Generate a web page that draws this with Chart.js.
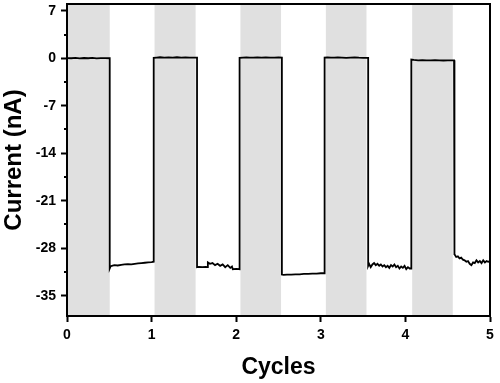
<!DOCTYPE html>
<html>
<head>
<meta charset="utf-8">
<script src="https://cdn.jsdelivr.net/npm/chart.js@4.4.1/dist/chart.umd.min.js"></script>
<style>html,body{margin:0;padding:0;background:#fff;}canvas{display:block;}</style>
</head>
<body>
<canvas id="c" width="500" height="383"></canvas>
<script>
// Data
const time = [
  0, 0.05, 0.1, 0.15, 0.2, 0.25, 0.3, 0.35, 0.4, 0.45, 0.505,
  0.505, 0.515, 0.53, 0.56, 0.6, 0.64, 0.68, 0.72, 0.76, 0.8, 0.84, 0.88, 0.92, 0.96, 1.0, 1.025,
  1.025, 1.06, 1.1, 1.15, 1.2, 1.25, 1.3, 1.35, 1.4, 1.45, 1.5, 1.537,
  1.537, 1.56, 1.6, 1.64, 1.66, 1.665, 1.69, 1.72, 1.75, 1.78, 1.81, 1.84, 1.87, 1.9, 1.93, 1.95, 1.96, 2.0, 2.04,
  2.04, 2.08, 2.12, 2.16, 2.2, 2.25, 2.3, 2.35, 2.4, 2.45, 2.5, 2.54,
  2.54, 2.56, 2.6, 2.65, 2.7, 2.75, 2.8, 2.85, 2.9, 2.95, 3.0, 3.045,
  3.045, 3.08, 3.12, 3.16, 3.2, 3.25, 3.3, 3.35, 3.4, 3.45, 3.5, 3.56,
  3.56, 3.57, 3.59, 3.61, 3.63, 3.65, 3.67, 3.69, 3.71, 3.73, 3.75, 3.77, 3.79, 3.81, 3.83, 3.85, 3.87, 3.89, 3.91, 3.93, 3.95, 3.97, 3.99, 4.01, 4.03, 4.05, 4.07,
  4.07, 4.1, 4.15, 4.2, 4.25, 4.3, 4.35, 4.4, 4.45, 4.5, 4.575,
  4.575, 4.585, 4.6, 4.62, 4.64, 4.66, 4.68, 4.7, 4.72, 4.74, 4.76, 4.78, 4.8, 4.82, 4.84, 4.86, 4.88, 4.9, 4.92, 4.94, 4.96, 4.98, 5.0
];
const current = [
  0.02, 0.0, 0.05, -0.03, 0.04, 0.0, 0.06, -0.02, 0.03, 0.01, 0.0,
  -31.0, -30.7, -30.6, -30.5, -30.55, -30.45, -30.4, -30.35, -30.4, -30.3, -30.25, -30.2, -30.15, -30.1, -30.05, -30.0,
  0.05, 0.1, 0.15, 0.1, 0.12, 0.08, 0.15, 0.1, 0.12, 0.08, 0.1, 0.08,
  -30.8, -30.75, -30.8, -30.75, -30.8, -30.1, -30.3, -30.2, -30.5, -30.3, -30.6, -30.4, -30.8, -30.5, -30.9, -30.7, -31.1, -31.05, -31.1,
  0.05, 0.1, 0.12, 0.08, 0.1, 0.14, 0.1, 0.12, 0.08, 0.1, 0.12, 0.1,
  -31.9, -31.95, -31.9, -31.9, -31.85, -31.85, -31.8, -31.8, -31.75, -31.75, -31.7, -31.7,
  0.1, 0.12, 0.08, 0.1, 0.14, 0.1, 0.06, 0.1, 0.12, 0.08, 0.06, 0.05,
  -30.6, -30.3, -30.8, -30.4, -30.2, -30.5, -30.3, -30.6, -30.4, -30.7, -30.5, -30.8, -30.6, -30.9, -30.5, -30.7, -30.4, -30.8, -30.6, -31.0, -30.7, -30.9, -30.6, -31.1, -30.8, -31.0, -31.0,
  -0.2, -0.25, -0.3, -0.28, -0.32, -0.3, -0.27, -0.3, -0.33, -0.3, -0.3,
  -29.0, -28.9, -29.3, -29.2, -29.5, -29.4, -29.7, -29.8, -30.0, -29.9, -30.3, -30.5, -30.1, -30.2, -29.8, -30.1, -29.9, -30.2, -29.8, -30.1, -29.9, -30.0, -29.9
];
const bandStart = [0, 1.035, 2.05, 3.06, 4.08];
const bandEnd = [0.505, 1.52, 2.53, 3.54, 4.56];
const yTicks = [7, 0, -7, -14, -21, -28, -35];
const yMinorTicks = [3.5, -3.5, -10.5, -17.5, -24.5, -31.5];
const xTicks = [0, 1, 2, 3, 4, 5];

const FONT = "'Liberation Sans', Arial, Helvetica, sans-serif";

const decor = {
  id: 'decor',
  beforeDatasetsDraw(chart) {
    const {ctx, chartArea: a, scales: {x}} = chart;
    ctx.save();
    ctx.fillStyle = 'rgb(224,224,224)';
    for (let i = 0; i < bandStart.length; i++) {
      const x0 = x.getPixelForValue(bandStart[i]);
      const x1 = x.getPixelForValue(bandEnd[i]);
      ctx.fillRect(x0, a.top, x1 - x0, a.bottom - a.top);
    }
    ctx.restore();
  },
  afterDraw(chart) {
    const {ctx, chartArea: a, scales: {y}} = chart;
    ctx.save();
    ctx.strokeStyle = '#000';
    ctx.lineWidth = 2;
    ctx.strokeRect(a.left, a.top, a.right - a.left, a.bottom - a.top);
    ctx.beginPath();
    yMinorTicks.forEach(v => {
      const py = Math.round(y.getPixelForValue(v));
      ctx.moveTo(a.left - 3, py);
      ctx.lineTo(a.left, py);
    });
    ctx.stroke();
    ctx.restore();
  }
};

new Chart(document.getElementById('c'), {
  type: 'scatter',
  data: {
    datasets: [{
      data: time.map((t, i) => ({x: t, y: current[i]})),
      showLine: true,
      borderColor: '#000',
      borderWidth: 1.8,
      pointRadius: 0,
      tension: 0
    }]
  },
  options: {
    responsive: false,
    animation: false,
    devicePixelRatio: 1,
    layout: {padding: {top: 4, right: 10, bottom: 0, left: 0}},
    plugins: {legend: {display: false}, tooltip: {enabled: false}},
    scales: {
      x: {
        type: 'linear',
        min: 0, max: 5,
        afterBuildTicks: s => { s.ticks = xTicks.map(v => ({value: v})); },
        afterFit: s => { s.height = 67; s.paddingLeft = 0; s.paddingRight = 0; },
        border: {display: true, color: '#000', width: 2},
        grid: {display: true, drawOnChartArea: false, drawTicks: true, tickLength: 6, tickWidth: 2, tickColor: '#000'},
        ticks: {color: '#000', font: {family: FONT, size: 14, weight: 'bold'}, padding: 5, maxRotation: 0},
        title: {display: true, text: 'Cycles', color: '#000', font: {family: FONT, size: 23, weight: 'bold'}, padding: {top: 0, bottom: 2}}
      },
      y: {
        type: 'linear',
        min: -38, max: 8,
        afterBuildTicks: s => { s.ticks = yTicks.map(v => ({value: v})); },
        afterFit: s => { s.width = 67; s.paddingTop = 0; s.paddingBottom = 0; },
        border: {display: true, color: '#000', width: 2},
        grid: {display: true, drawOnChartArea: false, drawTicks: true, tickLength: 6, tickWidth: 2, tickColor: '#000'},
        ticks: {color: '#000', font: {family: FONT, size: 14, weight: 'bold'}, padding: 5},
        title: {display: true, text: 'Current (nA)', color: '#000', font: {family: FONT, size: 24, weight: 'bold'}, padding: {top: 0, bottom: 0}}
      }
    }
  },
  plugins: [decor]
});
</script>
</body>
</html>
